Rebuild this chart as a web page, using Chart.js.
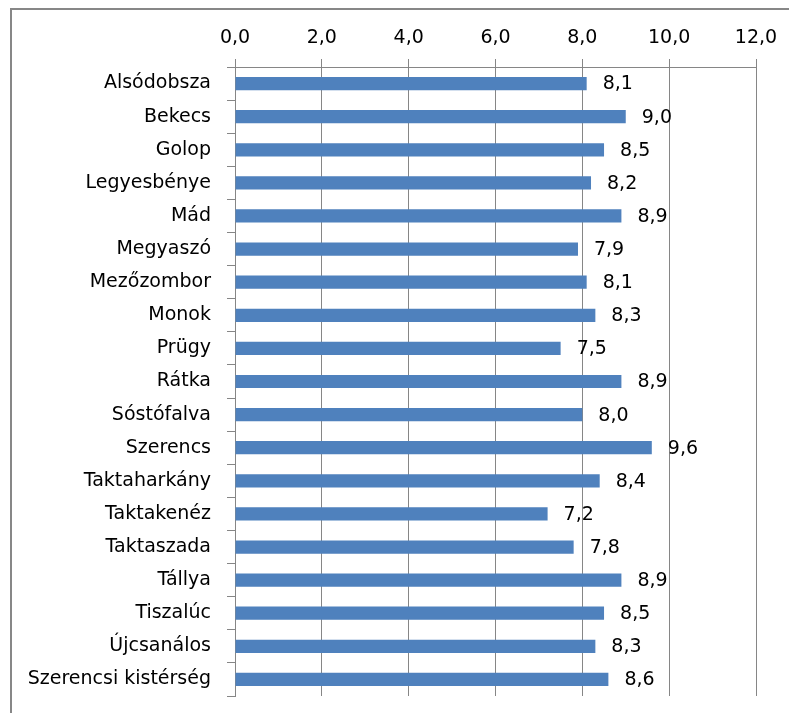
<!DOCTYPE html>
<html>
<head>
<meta charset="utf-8">
<script src="https://cdn.jsdelivr.net/npm/chart.js@4"></script>
<style>
html, body { margin: 0; padding: 0; background: #fff; }
#wrap { position: relative; width: 789px; height: 713px; overflow: hidden; }
#frame { position: absolute; left: 10px; top: 8px; width: 900px; height: 900px;
         border-top: 2px solid #878787; border-left: 2px solid #878787; }
canvas { position: absolute; left: 0; top: 0; }
</style>
</head>
<body>
<div id="wrap">
    <div id="frame"></div>
    <canvas id="chart" width="789" height="713"></canvas>
</div>
<script>
const categories = [
    'Alsódobsza', 'Bekecs', 'Golop', 'Legyesbénye', 'Mád', 'Megyaszó',
    'Mezőzombor', 'Monok', 'Prügy', 'Rátka', 'Sóstófalva', 'Szerencs',
    'Taktaharkány', 'Taktakenéz', 'Taktaszada', 'Tállya', 'Tiszalúc',
    'Újcsanálos', 'Szerencsi kistérség'
];
const values = [8.1, 9.0, 8.5, 8.2, 8.9, 7.9, 8.1, 8.3, 7.5, 8.9, 8.0, 9.6, 8.4, 7.2, 7.8, 8.9, 8.5, 8.3, 8.6];
const axisMin = 0;
const axisMax = 12;
const axisStep = 2;

const fontFamily = "'DejaVu Sans', sans-serif";
const fontSize = 19;
const gridColor = '#868686';

function formatNum(v) {
    return v.toFixed(1).replace('.', ',');
}

// Value labels to the right of each bar
const valueLabels = {
    id: 'valueLabels',
    afterDatasetsDraw(chart) {
        const ctx = chart.ctx;
        const meta = chart.getDatasetMeta(0);
        ctx.save();
        ctx.font = fontSize + 'px ' + fontFamily;
        ctx.fillStyle = '#000';
        ctx.textAlign = 'left';
        ctx.textBaseline = 'middle';
        meta.data.forEach((bar, i) => {
            ctx.fillText(formatNum(values[i]), bar.x + 16, bar.y + 1);
        });
        ctx.restore();
    }
};

const ctx = document.getElementById('chart').getContext('2d');
new Chart(ctx, {
    type: 'bar',
    data: {
        labels: categories,
        datasets: [{
            data: values,
            backgroundColor: '#4F81BD',
            borderWidth: 0,
            categoryPercentage: 1,
            barPercentage: 0.4
        }]
    },
    options: {
        indexAxis: 'y',
        responsive: false,
        animation: false,
        devicePixelRatio: 1,
        layout: {
            padding: { left: 0, top: 0, right: 33, bottom: 17 }
        },
        plugins: {
            legend: { display: false },
            tooltip: { enabled: false }
        },
        scales: {
            x: {
                position: 'top',
                min: axisMin,
                max: axisMax,
                afterFit: (scale) => { scale.height = 67; },
                ticks: {
                    stepSize: axisStep,
                    color: '#000',
                    padding: 10,
                    font: { family: fontFamily, size: fontSize },
                    callback: (value) => formatNum(value)
                },
                grid: {
                    color: gridColor,
                    lineWidth: 1,
                    tickLength: 8
                },
                border: { color: gridColor, width: 1 }
            },
            y: {
                afterFit: (scale) => {
                    scale.width = 235;
                    scale.paddingTop = 0;
                    scale.paddingBottom = 0;
                },
                ticks: {
                    color: '#000',
                    padding: 16,
                    font: { family: fontFamily, size: fontSize }
                },
                grid: {
                    drawOnChartArea: false,
                    color: gridColor,
                    lineWidth: 1,
                    tickLength: 8
                },
                border: { color: gridColor, width: 1 }
            }
        }
    },
    plugins: [valueLabels]
});
</script>
</body>
</html>
